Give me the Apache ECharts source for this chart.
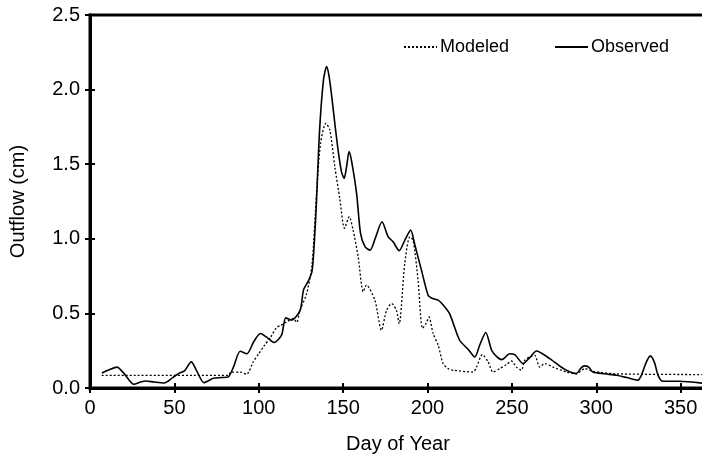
<!DOCTYPE html>
<html>
<head>
<meta charset="utf-8">
<script src="https://cdn.jsdelivr.net/npm/echarts@6/dist/echarts.min.js"></script>
<style>
html,body{margin:0;padding:0;background:#fff;}
#c{width:702px;height:454px;}
</style>
</head>
<body>
<div id="c"></div>
<script>
const obsDays = [7, 11, 16, 20, 26, 30, 33, 38, 44, 49, 53, 56, 60, 63, 67.5, 73, 78, 82, 85, 89, 93, 97, 101, 105, 109, 113.5, 116, 119.5, 124.5, 126.5, 129.5, 131.5, 132.5, 134, 136, 138.3, 140.2, 141.5, 143, 145, 147, 149, 150.6, 152, 153.5, 155, 158, 160.3, 163, 166, 169, 173, 176.7, 179.6, 183.2, 186.5, 190, 192.5, 196.4, 200.4, 203, 206.3, 209, 213, 219, 224, 228, 231, 234.5, 238, 241, 244, 248.7, 251.7, 256.6, 260.6, 264.5, 272.4, 278, 282.3, 288.2, 291, 293, 295.5, 298, 305, 312, 318, 324.7, 326.7, 329.5, 332, 334.5, 336.6, 339.5, 349, 365];
const obsValues = [0.10, 0.12, 0.14, 0.10, 0.025, 0.04, 0.047, 0.04, 0.034, 0.07, 0.10, 0.115, 0.175, 0.12, 0.036, 0.065, 0.07, 0.075, 0.14, 0.246, 0.23, 0.31, 0.365, 0.338, 0.305, 0.354, 0.47, 0.455, 0.52, 0.656, 0.72, 0.78, 0.90, 1.20, 1.72, 2.06, 2.155, 2.10, 1.976, 1.78, 1.595, 1.45, 1.405, 1.48, 1.584, 1.52, 1.30, 1.036, 0.946, 0.924, 1.003, 1.114, 1.013, 0.98, 0.92, 0.99, 1.058, 0.958, 0.79, 0.62, 0.60, 0.589, 0.56, 0.50, 0.32, 0.26, 0.208, 0.29, 0.372, 0.253, 0.21, 0.19, 0.23, 0.224, 0.164, 0.204, 0.248, 0.197, 0.15, 0.119, 0.097, 0.135, 0.148, 0.14, 0.107, 0.095, 0.085, 0.07, 0.052, 0.085, 0.17, 0.215, 0.17, 0.085, 0.045, 0.045, 0.03];
const modDays = [7, 82, 83.5, 89, 92.8, 96.7, 100, 103, 107, 110.5, 113, 116.5, 120.4, 122.5, 124.4, 128.3, 131.5, 134.2, 136.6, 139.8, 142.1, 145.1, 148, 150.8, 153.6, 155.9, 158.9, 161.9, 163.8, 168.8, 172.7, 175.7, 178.7, 181.6, 183.2, 186.5, 189.5, 191.5, 194.4, 197, 199, 200.9, 203.3, 206.3, 209.2, 212.2, 215.2, 227, 229, 232.5, 235.9, 238.8, 242.8, 246.7, 249.7, 252.7, 255.6, 257.6, 261.5, 263.5, 266.5, 269.5, 274.4, 282.3, 288.2, 293.1, 298, 311.9, 365];
const modValues = [0.085, 0.085, 0.107, 0.107, 0.092, 0.175, 0.23, 0.28, 0.34, 0.405, 0.42, 0.443, 0.466, 0.44, 0.52, 0.63, 0.82, 1.30, 1.64, 1.775, 1.73, 1.48, 1.27, 1.07, 1.148, 1.058, 0.88, 0.645, 0.69, 0.589, 0.387, 0.52, 0.566, 0.52, 0.43, 0.835, 1.013, 0.99, 0.72, 0.40, 0.43, 0.476, 0.365, 0.287, 0.164, 0.13, 0.119, 0.107, 0.14, 0.224, 0.175, 0.107, 0.13, 0.157, 0.181, 0.14, 0.119, 0.186, 0.213, 0.22, 0.14, 0.164, 0.14, 0.107, 0.095, 0.13, 0.112, 0.095, 0.09];
const seriesNames = ['Modeled', 'Observed'];
const xTicks = [0, 50, 100, 150, 200, 250, 300, 350];
const yTicks = [0.0, 0.5, 1.0, 1.5, 2.0, 2.5];

const zip = (a, b) => a.map((d, i) => [d, b[i]]);
const FONT = 'Liberation Sans, Arial, Helvetica, sans-serif';
const chart = echarts.init(document.getElementById('c'));
const tickStyle = { color: '#000', width: 2 };
const baseX = {
  type: 'value', min: 0, max: 365, interval: 50,
  axisLine: { show: true, onZero: false, lineStyle: { color: '#000', width: 3 } },
  splitLine: { show: false }
};
const baseY = {
  type: 'value', min: 0, max: 2.5, interval: 0.5,
  axisLine: { show: true, onZero: false, lineStyle: { color: '#000', width: 3 } },
  splitLine: { show: false }
};
chart.setOption({
  animation: false,
  backgroundColor: '#fff',
  grid: { left: 90, top: 15, width: 616, height: 373, show: true, borderColor: '#000', borderWidth: 3, backgroundColor: 'transparent', containLabel: false, outerBoundsMode: 'none' },
  legend: {
    data: seriesNames, left: 403, top: 38, padding: 0, itemWidth: 33, itemHeight: 20, itemGap: 45,
    itemStyle: { opacity: 0 },
    textStyle: { fontFamily: FONT, fontSize: 18, color: '#000', padding: [0, 0, 0, -2] }
  },
  xAxis: [
    Object.assign({}, baseX, {
      position: 'bottom',
      axisTick: { show: true, inside: false, length: 5, lineStyle: tickStyle },
      axisLabel: {
        show: true, margin: 10, fontFamily: FONT, fontSize: 20, color: '#000', showMaxLabel: false,
        formatter: v => xTicks.indexOf(v) >= 0 ? String(v) : ''
      },
      name: 'Day of Year', nameLocation: 'middle', nameGap: 46,
      nameTextStyle: { fontFamily: FONT, fontSize: 20, color: '#000' }
    }),
    Object.assign({}, baseX, {
      position: 'bottom',
      axisTick: { show: true, inside: true, length: 5, lineStyle: tickStyle },
      axisLabel: { show: false }
    })
  ],
  yAxis: [
    Object.assign({}, baseY, {
      position: 'left',
      axisTick: { show: true, inside: false, length: 5, lineStyle: tickStyle },
      axisLabel: {
        show: true, margin: 10, fontFamily: FONT, fontSize: 20, color: '#000',
        formatter: v => { const i = yTicks.indexOf(v); return i >= 0 ? yTicks[i].toFixed(1) : ''; }
      },
      name: 'Outflow (cm)', nameLocation: 'middle', nameGap: 62,
      nameTextStyle: { fontFamily: FONT, fontSize: 20, color: '#000' }
    }),
    Object.assign({}, baseY, {
      position: 'left',
      axisTick: { show: true, inside: true, length: 5, lineStyle: tickStyle },
      axisLabel: { show: false }
    })
  ],
  series: [
    {
      name: seriesNames[0], type: 'line', data: zip(modDays, modValues),
      xAxisIndex: 0, yAxisIndex: 0, showSymbol: false, symbol: 'none', smooth: 0.25,
      lineStyle: { color: '#000', width: 1.3, type: [2, 2] },
      itemStyle: { color: '#000' }, clip: true, z: 3
    },
    {
      name: seriesNames[1], type: 'line', data: zip(obsDays, obsValues),
      xAxisIndex: 0, yAxisIndex: 0, showSymbol: false, symbol: 'none', smooth: 0.25,
      lineStyle: { color: '#000', width: 1.6, type: 'solid' },
      itemStyle: { color: '#000' }, clip: true, z: 4
    }
  ]
});
</script>
</body>
</html>
